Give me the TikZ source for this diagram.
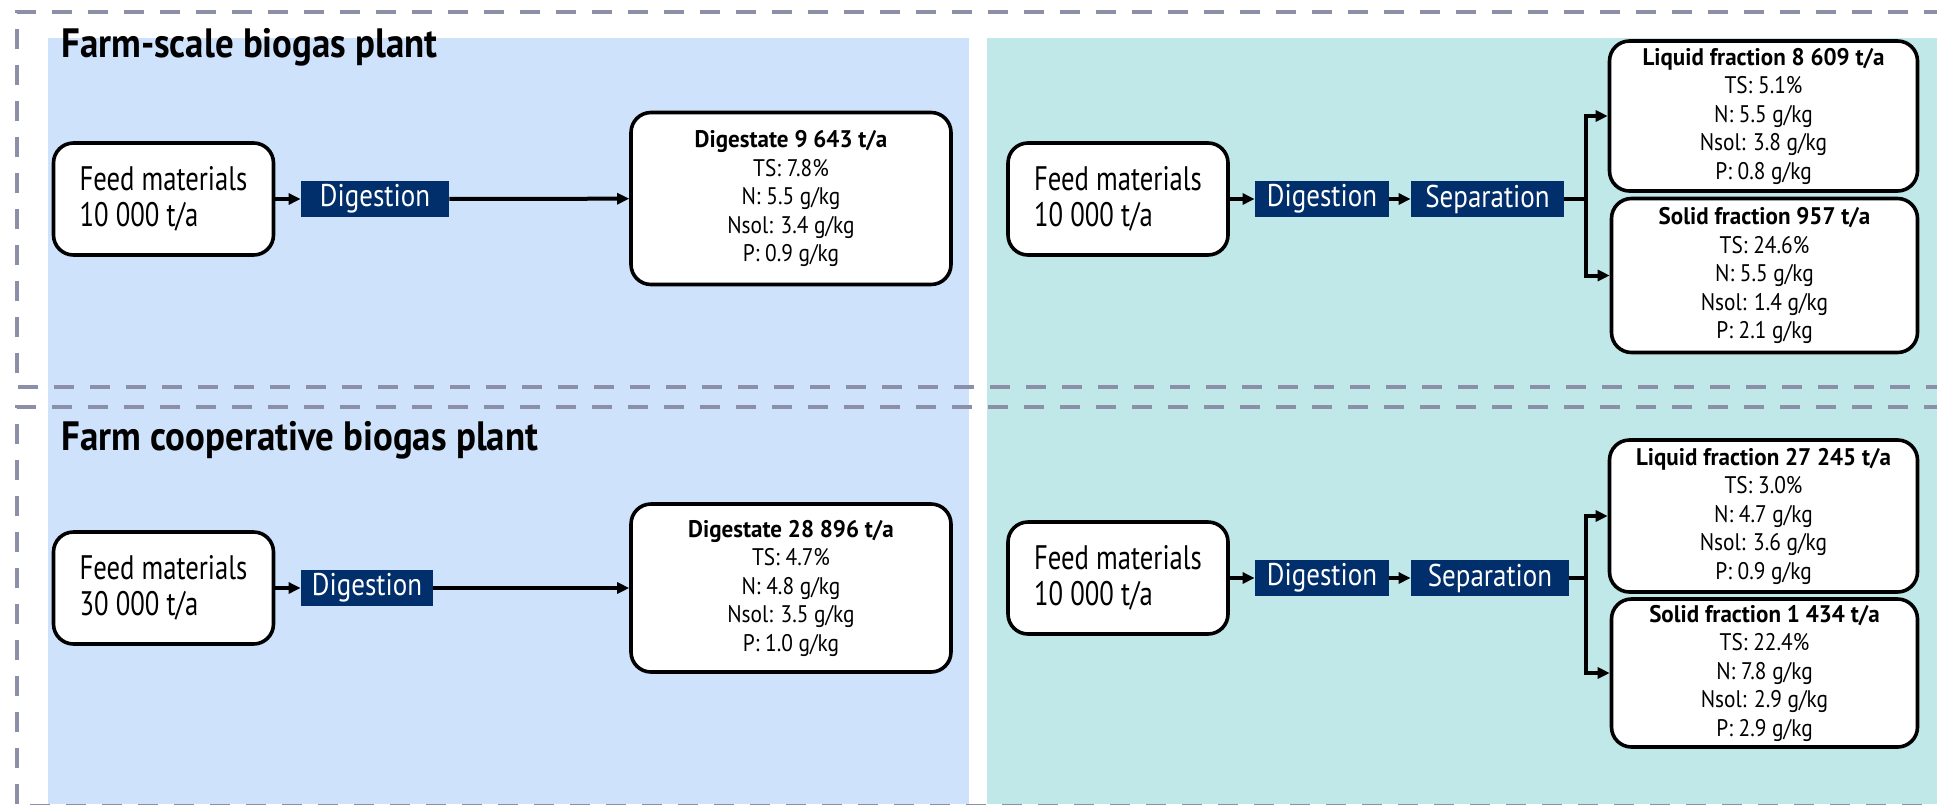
\documentclass[tikz,border=0pt]{standalone}
\usepackage{fontspec}
\setmainfont{PT Sans}[FakeStretch=0.82]
\newfontfamily\fTitle{PT Sans}[FakeStretch=0.9]
\newfontfamily\fFeed{PT Sans}[FakeStretch=0.785]
\newfontfamily\fProc{PT Sans}[FakeStretch=0.86]
\newfontfamily\fData{PT Sans}[FakeStretch=0.89]
\newfontfamily\fDataB{PT Sans}[FakeStretch=0.96]
\usetikzlibrary{arrows.meta}
\definecolor{panelblue}{RGB}{207,226,251}
\definecolor{panelteal}{RGB}{193,232,232}
\definecolor{navy}{RGB}{0,47,108}
\definecolor{framegray}{RGB}{140,143,168}
\newcommand{\hd}[1]{{\fDataB\bfseries #1}}
\tikzset{
  databox/.style={draw=black, line width=1.8pt, rounded corners=10pt, fill=white, align=center,
    font=\fData\fontsize{12}{14.25}\selectfont, inner sep=0pt},
  feedbox/.style={draw=black, line width=1.8pt, rounded corners=10pt, fill=white, align=left,
    font=\fFeed\fontsize{17}{18}\selectfont, inner sep=0pt, minimum width=110pt, minimum height=56pt},
  procbox/.style={fill=navy, text=white, font=\fProc\fontsize{15.7}{16}\selectfont, inner sep=0pt,
    minimum height=18pt},
  arr/.style={line width=2pt, -{Triangle[length=6pt,width=5.5pt]}},
  conn/.style={line width=2pt},
  framebox/.style={draw=framegray, line width=2pt, dash pattern=on 10pt off 8pt},
  titletext/.style={font=\fTitle\bfseries\fontsize{20.5}{22}\selectfont, anchor=base west, inner sep=0pt}
}
\begin{document}
\begin{tikzpicture}[x=0.5pt,y=-0.5pt]
\clip (0,0) rectangle (1937,804);
% panels
\fill[panelblue] (48,38) rectangle (969,804);
\fill[panelteal] (987,38) rectangle (1937,804);
% frames
\draw[framebox] (1980,12) -- (16.5,12) -- (16.5,387) -- (1980,387);
\draw[framebox] (1980,407) -- (16.5,407) -- (16.5,806) -- (1980,806);
% titles
\node[titletext] (t1) at (61,57) {Farm-scale biogas plant};
\node[titletext] (t2) at (61,450) {Farm cooperative biogas plant};

% ---- upper left
\node[feedbox] (feed1) at (163.5,199) {Feed materials\\10 000 t/a};
\node[procbox, minimum width=74pt] (dig1) at (375,199) {Digestion};
\node[databox, minimum width=160pt, minimum height=86pt] (dst1) at (791,198.5)
  {\hd{Digestate 9 643 t/a}\\TS: 7.8\%\\N: 5.5 g/kg\\Nsol: 3.4 g/kg\\P: 0.9 g/kg};
\draw[arr] (feed1) -- (dig1);
\draw[arr] (dig1) -- (dst1);

% ---- upper right
\node[feedbox] (feed2) at (1118,199) {Feed materials\\10 000 t/a};
\node[procbox, minimum width=67pt] (dig2) at (1322,199) {Digestion};
\node[procbox, minimum width=76.5pt] (sep1) at (1487.5,199) {Separation};
\node[databox, minimum width=154pt, minimum height=75pt] (liq1) at (1763.5,116)
  {\hd{Liquid fraction 8 609 t/a}\\TS: 5.1\%\\N: 5.5 g/kg\\Nsol: 3.8 g/kg\\P: 0.8 g/kg};
\node[databox, minimum width=153pt, minimum height=77pt] (sol1) at (1764.5,275.5)
  {\hd{Solid fraction 957 t/a}\\TS: 24.6\%\\N: 5.5 g/kg\\Nsol: 1.4 g/kg\\P: 2.1 g/kg};
\coordinate (br1) at (1586,199);
\draw[arr] (feed2) -- (dig2);
\draw[arr] (dig2) -- (sep1);
\draw[conn] (sep1.east) -- (br1);
\draw[arr] (br1) |- (liq1.west);
\draw[arr] (br1) |- (sol1.west);

% ---- lower left
\node[feedbox] (feed3) at (163.5,588) {Feed materials\\30 000 t/a};
\node[procbox, minimum width=66pt] (dig3) at (367,588) {Digestion};
\node[databox, minimum width=160pt, minimum height=84pt] (dst2) at (791,588)
  {\hd{Digestate 28 896 t/a}\\TS: 4.7\%\\N: 4.8 g/kg\\Nsol: 3.5 g/kg\\P: 1.0 g/kg};
\draw[arr] (feed3) -- (dig3);
\draw[arr] (dig3) -- (dst2);

% ---- lower right
\node[feedbox] (feed4) at (1118,578) {Feed materials\\10 000 t/a};
\node[procbox, minimum width=67pt] (dig4) at (1322,578) {Digestion};
\node[procbox, minimum width=79pt] (sep2) at (1490,578) {Separation};
\node[databox, minimum width=154pt, minimum height=76pt] (liq2) at (1763.5,516)
  {\hd{Liquid fraction 27 245 t/a}\\TS: 3.0\%\\N: 4.7 g/kg\\Nsol: 3.6 g/kg\\P: 0.9 g/kg};
\node[databox, minimum width=153pt, minimum height=74pt] (sol2) at (1764.5,673)
  {\hd{Solid fraction 1 434 t/a}\\TS: 22.4\%\\N: 7.8 g/kg\\Nsol: 2.9 g/kg\\P: 2.9 g/kg};
\coordinate (br2) at (1586,578);
\draw[arr] (feed4) -- (dig4);
\draw[arr] (dig4) -- (sep2);
\draw[conn] (sep2.east) -- (br2);
\draw[arr] (br2) |- (liq2.west);
\draw[arr] (br2) |- (sol2.west);
\end{tikzpicture}
\end{document}
